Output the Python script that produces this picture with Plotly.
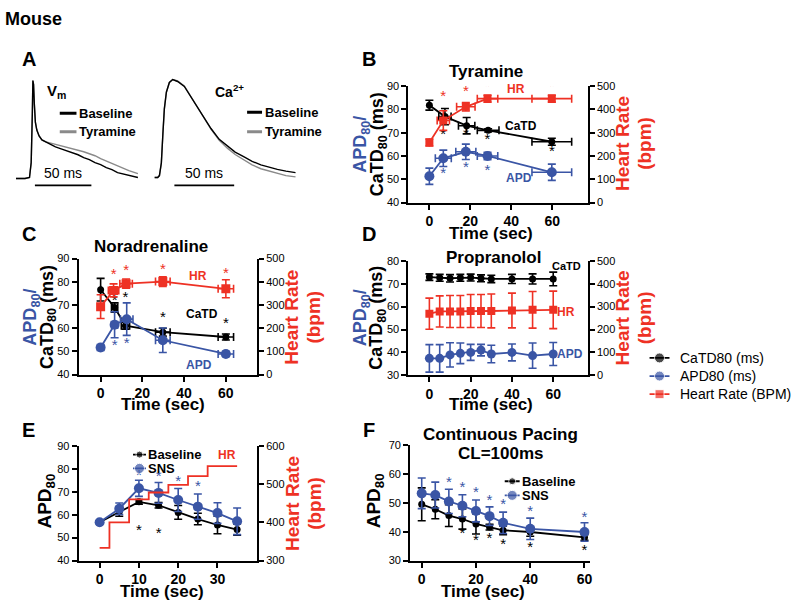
import plotly.graph_objects as go

W, H = 800, 609
FONT = "Arial, 'Liberation Sans', Helvetica, sans-serif"
BLUE = '#3a55a5'
RED = '#ee3124'
GREY = '#8a8a8a'
BLACK = '#000000'

# ---------------- Panel A : optical traces (ms, normalised amplitude) ----------------
vm_time = [0, 8, 12, 13.5, 14.5, 15, 15.6, 16.3, 17.2, 18.5, 20.5, 23, 26.5,
           30, 35, 40, 45, 50, 55, 60, 65, 70, 75, 80, 85, 90, 95, 100, 108]
vm_baseline = [0, 0, 0.01, 0.16, 0.65, 0.99, 0.95, 0.75, 0.57, 0.49, 0.43, 0.39, 0.37,
               0.35, 0.32, 0.30, 0.28, 0.26, 0.24, 0.21, 0.19, 0.16, 0.14, 0.11, 0.09, 0.06, 0.045, 0.03, 0.01]
vm_tyramine = [0, 0, 0.01, 0.16, 0.65, 0.99, 0.95, 0.75, 0.57, 0.49, 0.43, 0.39, 0.37,
               0.36, 0.345, 0.33, 0.32, 0.305, 0.29, 0.27, 0.25, 0.23, 0.20, 0.175, 0.15, 0.125, 0.10, 0.08, 0.05]

ca_time = [0, 2.75, 4.2, 5.8, 7.1, 8.3, 10, 12.5, 15.3, 19.4, 25, 33.3, 40, 47.3, 54.2,
           61, 67.5, 75, 81.7, 89, 95.8, 102.8, 110, 118]
ca_baseline = [0, 0, 0.02, 0.15, 0.45, 0.70, 0.87, 0.97, 1.0, 0.98, 0.93, 0.77, 0.63, 0.50, 0.39,
               0.32, 0.26, 0.21, 0.165, 0.13, 0.105, 0.083, 0.065, 0.05]
ca_tyramine = [0, 0, 0.02, 0.15, 0.45, 0.70, 0.87, 0.97, 1.0, 0.985, 0.935, 0.77, 0.63, 0.495, 0.38,
               0.30, 0.235, 0.18, 0.13, 0.09, 0.065, 0.04, 0.02, 0.007]
scalebar_ms = 50

# ---------------- Panel B : Tyramine ----------------
b_catd_t = [0, 7.6, 18.2, 28.7, 59.8]
b_catd = [81.8, 76.9, 73.0, 71.0, 66.1]
b_catd_err = [2.1, 3.5, 3.5, 0.7, 1.5]
b_catd_terr = [0, 3.0, 4.0, 5.3, 9.7]
b_apd_t = [0, 6.8, 17.8, 28.4, 59.8]
b_apd = [51.3, 59.0, 61.8, 60.0, 53.0]
b_apd_err = [3.5, 3.5, 3.3, 1.6, 3.5]
b_apd_terr = [0, 3.9, 4.9, 5.0, 9.7]
b_hr_t = [0, 6.8, 17.8, 28.4, 59.8]
b_hr = [258, 352, 411, 446, 446]
b_hr_err = [15, 42, 18, 15, 15]
b_hr_terr = [0, 3.0, 4.5, 5.0, 9.7]
b_star_red = ([6.8, 17.8, 28.4, 59.8], [85.1, 87.2, 89.3, 89.3])
b_star_black = ([6.8, 17.8, 28.4, 59.8], [68.9, 68.9, 66.8, 61.8])
b_star_blue = ([6.8, 17.8, 28.4], [52.0, 54.8, 53.4])

# ---------------- Panel C : Noradrenaline ----------------
c_catd_t = [0, 6.7, 11.9, 29.8, 60]
c_catd = [76.6, 68.9, 61.1, 58.3, 56.2]
c_catd_err = [4.9, 2.0, 1.5, 1.7, 1.3]
c_catd_terr = [0, 1.5, 2.0, 3.5, 3.7]
c_apd_t = [0, 6.7, 12.5, 29.8, 60]
c_apd = [51.7, 61.5, 63.9, 54.8, 48.9]
c_apd_err = [1.3, 5.6, 7.0, 5.3, 1.1]
c_apd_terr = [0, 1.5, 3.0, 3.5, 3.7]
c_hr_t = [0, 6.2, 12.2, 29.8, 60]
c_hr = [293, 363, 392, 401, 370]
c_hr_err = [51, 28, 20, 21, 39]
c_hr_terr = [0, 2.5, 3.0, 3.5, 3.7]
c_star_red = ([6.2, 12.2, 29.8, 60], [82.7, 84.4, 84.8, 83.4])
c_star_black = ([6.7, 11.9, 29.8, 60], [71.4, 72.8, 64.4, 61.5])
c_star_blue = ([6.7, 12.5], [52.4, 53.1])

# ---------------- Panel D : Propranolol ----------------
d_t = [0, 5, 10, 15, 20, 25, 30, 40, 50, 60]
d_catd = [72.9, 72.6, 72.4, 72.6, 72.7, 72.4, 72.1, 72.1, 72.1, 72.1]
d_catd_err = [1.4, 1.5, 1.6, 1.5, 1.5, 1.5, 1.6, 2.0, 2.2, 3.0]
d_hr = [269, 279, 279, 279, 281, 281, 281, 283, 286, 286]
d_hr_err = [68, 68, 70, 70, 72, 72, 74, 76, 80, 82]
d_apd = [37.4, 37.4, 38.9, 39.6, 40.0, 41.0, 39.3, 40.0, 38.6, 39.3]
d_apd_err = [6.0, 6.0, 5.3, 4.5, 3.5, 2.5, 3.8, 3.7, 5.5, 5.0]

# ---------------- Panel E : SNS stimulation ----------------
e_t = [0, 5, 10, 15, 20, 25, 30, 35]
e_base = [56.7, 61.3, 65.6, 64.1, 61.0, 58.1, 55.5, 53.5]
e_base_err = [0.5, 2.0, 1.0, 1.2, 3.0, 2.5, 3.8, 2.5]
e_sns = [56.7, 62.6, 71.5, 69.5, 66.4, 63.5, 60.7, 57.1]
e_sns_err = [0.5, 2.5, 3.5, 4.5, 5.0, 5.5, 4.5, 5.8]
e_hr = [333, 400, 460, 478, 498, 521, 547, 547]
e_star_blue = ([10, 15, 20, 25], [76.9, 76.3, 74.0, 72.0])
e_star_black = ([10, 15], [52.8, 51.4])

# ---------------- Panel F : Continuous pacing ----------------
f_t = [0, 5, 10, 15, 20, 25, 30, 40, 60]
f_base = [49.5, 47.8, 45.6, 44.4, 42.7, 41.6, 40.5, 39.9, 38.0]
f_base_err = [5.7, 3.3, 3.8, 3.5, 3.5, 1.0, 1.5, 1.5, 1.0]
f_sns = [53.3, 52.7, 50.5, 49.0, 47.2, 45.4, 43.1, 41.0, 39.9]
f_sns_err = [5.3, 4.5, 4.2, 3.8, 3.8, 3.2, 3.7, 3.7, 3.2]
f_star_blue = ([10, 15, 20, 25, 30, 40, 60], [56.9, 55.2, 53.3, 50.7, 49.2, 46.9, 44.7])
f_star_black = ([15, 20, 25, 30, 40, 60], [39.0, 36.7, 37.4, 35.3, 34.4, 33.1])

# ---------------- shared legend ----------------
legend_names = ['CaTD80 (ms)', 'APD80 (ms)', 'Heart Rate (BPM)']
legend_colors = [BLACK, BLUE, RED]
legend_symbols = ['circle', 'circle', 'square']


# ======================= helpers =======================
def fx(p):
    return p / W


def fy(p):
    return 1 - p / H


def lin_range(d0, d1, pa, va, pb, vb):
    s = (vb - va) / (pb - pa)
    return [va + (d0 - pa) * s, va + (d1 - pa) * s]


def x_axis(dom, rng, tickvals, anchor):
    return dict(domain=[fx(dom[0]), fx(dom[1])], range=rng, tickvals=tickvals, anchor=anchor,
                showline=True, linecolor='black', linewidth=2, ticks='outside', ticklen=5,
                tickwidth=2, tickcolor='black', showgrid=False, zeroline=False,
                tickfont=dict(size=14, weight='bold', color='black', family=FONT), fixedrange=True)


def y_axis(dom, rng, dtick, anchor, side='left', overlaying=None):
    d = dict(range=rng, dtick=dtick, tick0=rng[0], anchor=anchor, side=side,
             showline=True, linecolor='black', linewidth=2, ticks='outside', ticklen=5,
             tickwidth=2, tickcolor='black', showgrid=False, zeroline=False,
             tickfont=dict(size=11, color='black', family=FONT), fixedrange=True)
    if overlaying:
        d['overlaying'] = overlaying
    else:
        d['domain'] = [fy(dom[1]), fy(dom[0])]
    return d


def hidden_axis(dom, rng, anchor, is_x):
    d = dict(range=rng, visible=False, anchor=anchor, fixedrange=True, showgrid=False, zeroline=False)
    d['domain'] = [fx(dom[0]), fx(dom[1])] if is_x else [fy(dom[1]), fy(dom[0])]
    return d


fig = go.Figure()
annotations = []
shapes = []


def ann_px(text, px, py, size=12, color='black', bold=False, angle=0, xanchor='center'):
    annotations.append(dict(text=text, x=fx(px), y=fy(py), xref='paper', yref='paper', showarrow=False,
                            textangle=angle, xanchor=xanchor, yanchor='middle',
                            font=dict(size=size, color=color, family=FONT, weight='bold' if bold else 'normal')))


def ann_data(text, x, y, xref, yref, size=12, color='black', bold=True, xanchor='center'):
    annotations.append(dict(text=text, x=x, y=y, xref=xref, yref=yref, showarrow=False,
                            xanchor=xanchor, yanchor='middle',
                            font=dict(size=size, color=color, family=FONT, weight='bold' if bold else 'normal')))


def series(x, y, color, xa, ya, size, symbol='circle', yerr=None, xerr=None, lw=1.8):
    tr = dict(x=x, y=y, mode='lines+markers', xaxis=xa, yaxis=ya,
              line=dict(color=color, width=lw),
              marker=dict(color=color, size=size, symbol=symbol, line=dict(width=0)),
              showlegend=False, hoverinfo='skip')
    if yerr is not None:
        tr['error_y'] = dict(type='data', array=yerr, visible=True, color=color, thickness=1.6, width=4)
    if xerr is not None:
        tr['error_x'] = dict(type='data', array=xerr, visible=True, color=color, thickness=1.6, width=4)
    fig.add_trace(go.Scatter(**tr))


def stars(pts, color, xa, ya):
    fig.add_trace(go.Scatter(x=pts[0], y=pts[1], mode='text', text=['*'] * len(pts[0]),
                             textposition='middle center', xaxis=xa, yaxis=ya,
                             textfont=dict(size=15, color=color, family=FONT),
                             showlegend=False, hoverinfo='skip'))


layout = dict(width=W, height=H, margin=dict(l=0, r=0, t=0, b=0), paper_bgcolor='white',
              plot_bgcolor='white', font=dict(family=FONT, color='black'), showlegend=False)

# ======================= Panel A =======================
layout['xaxis'] = hidden_axis((16, 140.7), [0, 110], 'y', True)
layout['yaxis'] = hidden_axis((60, 190), [-0.139, 1.149], 'x', False)
layout['xaxis2'] = hidden_axis((155, 300), [0, 120.8], 'y2', True)
layout['yaxis2'] = hidden_axis((60, 190), [-0.15, 1.15], 'x2', False)

for xa, ya, t, base, tyr in (('x', 'y', vm_time, vm_baseline, vm_tyramine),
                             ('x2', 'y2', ca_time, ca_baseline, ca_tyramine)):
    fig.add_trace(go.Scatter(x=t, y=tyr, mode='lines', line=dict(color=GREY, width=1.4),
                             xaxis=xa, yaxis=ya, showlegend=False, hoverinfo='skip'))
    fig.add_trace(go.Scatter(x=t, y=base, mode='lines', line=dict(color='black', width=1.4),
                             xaxis=xa, yaxis=ya, showlegend=False, hoverinfo='skip'))

for xa, ya, x0, yb in (('x', 'y', 16.8, -0.069), ('x2', 'y2', 16.7, -0.08)):
    shapes.append(dict(type='line', xref=xa, yref=ya, x0=x0, x1=x0 + scalebar_ms, y0=yb, y1=yb,
                       line=dict(color='black', width=1.6)))
ann_data('50 ms', 41.4, 0.06, 'x', 'y', size=14, bold=False)
ann_data('50 ms', 41.7, 0.05, 'x2', 'y2', size=14, bold=False)
ann_data('V<sub>m</sub>', 35.9, 0.884, 'x', 'y', size=15)
ann_data('Ca<sup>2+</sup>', 62.5, 0.88, 'x2', 'y2', size=14)
for xa, ya, x0, x1, vb, vt in (('x', 'y', 38.8, 53.6, 0.66, 0.472), ('x2', 'y2', 77.5, 90.0, 0.667, 0.467)):
    shapes.append(dict(type='line', xref=xa, yref=ya, x0=x0, x1=x1, y0=vb, y1=vb, line=dict(color='black', width=3)))
    shapes.append(dict(type='line', xref=xa, yref=ya, x0=x0, x1=x1, y0=vt, y1=vt, line=dict(color=GREY, width=3)))
    ann_data('Baseline', x1 + 0.5, vb, xa, ya, size=13, xanchor='left')
    ann_data('Tyramine', x1 + 0.5, vt, xa, ya, size=13, xanchor='left')

# ======================= Panel B =======================
bx, by = (410, 590), (81.7, 200.5)
layout['xaxis3'] = x_axis(bx, lin_range(bx[0], bx[1], 431, 0, 554.3, 60), [0, 20, 40, 60], 'y3')
layout['yaxis3'] = y_axis(by, [40, 90], 10, 'x3')
layout['yaxis4'] = y_axis(by, [0, 500], 100, 'x3', side='right', overlaying='y3')
series(b_catd_t, b_catd, BLACK, 'x3', 'y3', 7, yerr=b_catd_err, xerr=b_catd_terr)
series(b_apd_t, b_apd, BLUE, 'x3', 'y3', 10, yerr=b_apd_err, xerr=b_apd_terr)
series(b_hr_t, b_hr, RED, 'x3', 'y4', 8, symbol='square', yerr=b_hr_err, xerr=b_hr_terr)
stars(b_star_red, RED, 'x3', 'y3')
stars(b_star_black, BLACK, 'x3', 'y3')
stars(b_star_blue, BLUE, 'x3', 'y3')
ann_data('HR', 42.5, 88.6, 'x3', 'y3', color=RED)
ann_data('CaTD', 44.9, 72.7, 'x3', 'y3')
ann_data('APD', 44.0, 50.6, 'x3', 'y3', color=BLUE)

# ======================= Panel C =======================
cx, cy = (79, 258), (257.7, 376)
layout['xaxis4'] = x_axis(cx, lin_range(cx[0], cx[1], 101, 0, 226.7, 60), [0, 20, 40, 60], 'y5')
layout['yaxis5'] = y_axis(cy, [40, 90], 10, 'x4')
layout['yaxis6'] = y_axis(cy, [0, 500], 100, 'x4', side='right', overlaying='y5')
series(c_catd_t, c_catd, BLACK, 'x4', 'y5', 7, yerr=c_catd_err, xerr=c_catd_terr)
series(c_apd_t, c_apd, BLUE, 'x4', 'y5', 10, yerr=c_apd_err, xerr=c_apd_terr)
series(c_hr_t, c_hr, RED, 'x4', 'y6', 9, symbol='square', yerr=c_hr_err, xerr=c_hr_terr)
stars(c_star_red, RED, 'x4', 'y5')
stars(c_star_black, BLACK, 'x4', 'y5')
stars(c_star_blue, BLUE, 'x4', 'y5')
ann_data('HR', 46.5, 82.3, 'x4', 'y5', color=RED)
ann_data('CaTD', 48.6, 66.2, 'x4', 'y5')
ann_data('APD', 47.3, 44.2, 'x4', 'y5', color=BLUE)

# ======================= Panel D =======================
dx, dy = (410, 590), (260, 376.7)
layout['xaxis5'] = x_axis(dx, lin_range(dx[0], dx[1], 431, 0, 555.3, 60), [0, 20, 40, 60], 'y7')
layout['yaxis7'] = y_axis(dy, [30, 80], 10, 'x5')
layout['yaxis8'] = y_axis(dy, [0, 500], 100, 'x5', side='right', overlaying='y7')
series(d_t, d_catd, BLACK, 'x5', 'y7', 7, yerr=d_catd_err)
series(d_t, d_apd, BLUE, 'x5', 'y7', 9, yerr=d_apd_err)
series(d_t, d_hr, RED, 'x5', 'y8', 8, symbol='square', yerr=d_hr_err)
ann_data('CaTD', 66.2, 77.9, 'x5', 'y7', size=11)
ann_data('HR', 66.2, 57.8, 'x5', 'y7', color=RED)
ann_data('APD', 68.3, 39.3, 'x5', 'y7', color=BLUE)

# ======================= Panel E =======================
ex, ey = (79, 258), (448.7, 565.7)
layout['xaxis6'] = x_axis(ex, lin_range(ex[0], ex[1], 100, 0, 218.3, 30), [0, 10, 20, 30], 'y9')
layout['yaxis9'] = y_axis(ey, [40, 90], 10, 'x6')
layout['yaxis10'] = y_axis(ey, [300, 600], 100, 'x6', side='right', overlaying='y9')
fig.add_trace(go.Scatter(x=e_t, y=e_hr, mode='lines', line=dict(color=RED, width=1.8, shape='hvh'),
                         xaxis='x6', yaxis='y10', showlegend=False, hoverinfo='skip'))
series(e_t, e_base, BLACK, 'x6', 'y9', 7, yerr=e_base_err)
series(e_t, e_sns, BLUE, 'x6', 'y9', 10, yerr=e_sns_err)
stars(e_star_blue, BLUE, 'x6', 'y9')
stars(e_star_black, BLACK, 'x6', 'y9')
ann_data('HR', 32.5, 85.8, 'x6', 'y9', color=RED)

# ======================= Panel F =======================
fxd, fyd = (411.7, 592), (448, 565.7)
layout['xaxis7'] = x_axis(fxd, lin_range(fxd[0], fxd[1], 423.3, 0, 586.7, 60), [0, 20, 40, 60], 'y11')
layout['yaxis11'] = y_axis(fyd, [30, 70], 10, 'x7')
series(f_t, f_base, BLACK, 'x7', 'y11', 7, yerr=f_base_err)
series(f_t, f_sns, BLUE, 'x7', 'y11', 10, yerr=f_sns_err)
stars(f_star_blue, BLUE, 'x7', 'y11')
stars(f_star_black, BLACK, 'x7', 'y11')

for xa, ya, xs, yb, ys in (('x6', 'y9', (8.5, 11.8), 86.2, 80.2), ('x7', 'y11', (30.6, 36.1), 57.5, 52.6)):
    for yy, col, sz, lab in ((yb, BLACK, 7, 'Baseline'), (ys, BLUE, 10, 'SNS')):
        fig.add_trace(go.Scatter(x=[xs[0], (xs[0] + xs[1]) / 2, xs[1]], y=[yy, yy, yy], mode='lines+markers',
                                 line=dict(color=col, width=1.8), marker=dict(color=col, size=[0, sz, 0]),
                                 xaxis=xa, yaxis=ya, showlegend=False, hoverinfo='skip'))
        ann_data(lab, xs[1], yy, xa, ya, size=13, xanchor='left')

# ======================= shared legend (drawn in a pixel-unit hidden axis) =======================
layout['xaxis8'] = hidden_axis((640, 800), [640, 800], 'y12', True)
layout['yaxis12'] = hidden_axis((345, 410), [410, 345], 'x8', False)
for i, (nm, col, sym) in enumerate(zip(legend_names, legend_colors, legend_symbols)):
    yy = 359 + i * 18.5
    fig.add_trace(go.Scatter(x=[652, 662, 672], y=[yy, yy, yy], mode='lines+markers',
                             line=dict(color=col, width=1.8),
                             marker=dict(color=col, size=[0, 10 if i < 2 else 9, 0], symbol=sym),
                             xaxis='x8', yaxis='y12', showlegend=False, hoverinfo='skip'))
    ann_data(nm, 681, yy, 'x8', 'y12', size=14, bold=False, xanchor='left')

# ======================= Text: labels, titles =======================
ann_px('Mouse', 3, 13, size=18, bold=True, xanchor='left')
for lab, px, py in (('A', 29, 54), ('B', 370.5, 54), ('C', 29, 233), ('D', 370.5, 233), ('E', 29, 433), ('F', 370.5, 433)):
    ann_px(lab, px, py, size=20, bold=True)

ann_px('Tyramine', 488, 67, size=17, bold=True)
ann_px('Noradrenaline', 151.7, 245, size=17, bold=True)
ann_px('Propranolol', 495, 257, size=17, bold=True)
ann_px('Continuous Pacing', 502, 437, size=17, bold=True)
ann_px('CL=100ms', 503, 457, size=17, bold=True)

for px, py in ((492.5, 232), (163.3, 407), (492.5, 407), (162.5, 597), (485, 597)):
    ann_px('Time (sec)', px, py, size=17, bold=True)

for spine, cyc in ((410, 141), (79, 317), (410, 318)):
    ann_px('APD<sub>80</sub>/', spine - 47, cyc, size=18, color=BLUE, bold=True, angle=-90)
    ann_px('CaTD<sub>80</sub> (ms)', spine - 30.5, cyc, size=18, bold=True, angle=-90)
ann_px('APD<sub>80</sub>', 46.7, 505, size=19, bold=True, angle=-90)
ann_px('APD<sub>80</sub>', 376.7, 505, size=19, bold=True, angle=-90)

for spine, cyc in ((590, 140), (258, 317), (590, 318), (258, 507)):
    ann_px('Heart Rate', spine + 35, cyc, size=19, color=RED, bold=True, angle=-90)
    ann_px('(bpm)', spine + 57, cyc, size=19, color=RED, bold=True, angle=-90)

layout['annotations'] = annotations
layout['shapes'] = shapes
fig.update_layout(**layout)

fig.write_html('out.html', config={'displayModeBar': False},
               post_script="document.body.style.margin='0';document.body.style.padding='0';"
                           "document.body.style.overflow='hidden';")
